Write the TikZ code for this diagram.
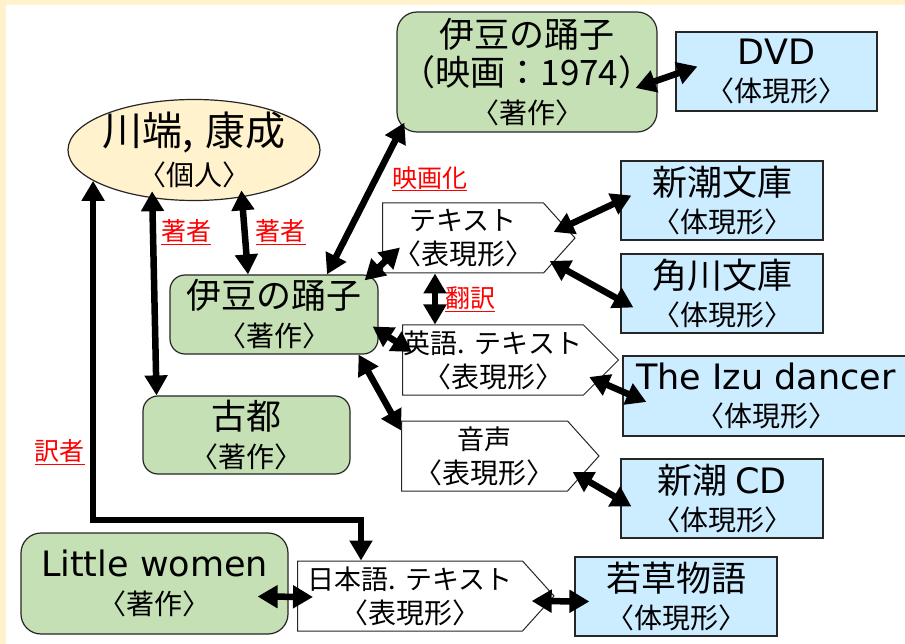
\documentclass[tikz,border=0pt]{standalone}
\usepackage{fontspec}
\setmainfont{Noto Sans CJK JP}
\newfontfamily\latinfont{DejaVu Sans}
\usetikzlibrary{arrows.meta,shapes.geometric,shapes.symbols}

\definecolor{cream}{RGB}{255,242,204}
\definecolor{workgreen}{RGB}{197,224,180}
\definecolor{manifblue}{RGB}{204,236,255}
\definecolor{labred}{RGB}{255,0,0}

\newcommand{\head}[1]{{\fontsize{35}{38}\selectfont #1}}
\newcommand{\exhead}[1]{{\fontsize{27}{34}\selectfont #1}}

\tikzset{
  work/.style={rectangle, rounded corners=15pt, draw=black!85, line width=1.2pt,
    fill=workgreen, align=center, inner sep=0pt, font=\fontsize{28}{38}\selectfont},
  manif/.style={rectangle, draw=black!85, line width=1.2pt, fill=manifblue,
    minimum width=202pt, minimum height=79pt, align=center, inner sep=0pt,
    font=\fontsize{28}{37}\selectfont},
  expr/.style={signal, signal to=east, signal pointer angle=96, draw=black!85,
    line width=1pt, fill=white, align=center, inner sep=0pt, minimum height=70pt,
    font=\fontsize{28}{34}\selectfont},
  rel/.style={line width=6.5pt,
    {Triangle[length=20pt,width=22pt]}-{Triangle[length=20pt,width=22pt]}},
  lab/.style={text=labred, font=\fontsize{25}{27}\selectfont, inner sep=1pt},
}

\begin{document}
\begin{tikzpicture}[x=1pt,y=-1pt]
  \fill[cream] (0,0) rectangle (905,644);
  \fill[white] (6,5) rectangle (905,644);
  \clip (0,0) rectangle (905,644);

  % persons and works
  \node[ellipse, draw=black!85, line width=1.2pt, fill=cream, minimum width=252pt,
    minimum height=101pt, inner xsep=-12pt, inner ysep=-6pt, align=center,
    font=\fontsize{28}{40}\selectfont] (kawabata) at (194,150)
    {{\fontsize{40}{40}\selectfont 川端,\hspace{0.3em}康成}\\〈個人〉};
  \node[work, rounded corners=20pt, minimum width=260pt, minimum height=120pt]
    (film) at (527,72) {\head{伊豆の踊子}\\\head{（映画：1974）}\\〈著作〉};
  \node[work, minimum width=208pt, minimum height=79pt] (izu) at (274,314.5)
    {\head{伊豆の踊子}\\〈著作〉};
  \node[work, minimum width=207pt, minimum height=78pt] (koto) at (246.5,435)
    {\head{古都}\\〈著作〉};
  \node[work, rounded corners=20pt, minimum width=267pt, minimum height=101pt]
    (little) at (154.5,583.5) {\head{\latinfont Little women}\\〈著作〉};

  % expressions
  \node[expr, text width=161pt, anchor=west] (text) at (382,238)
    {\exhead{テキスト}\\〈表現形〉};
  \node[expr, text width=181pt, signal pointer angle=90, anchor=west] (eng)
    at (402,360) {\exhead{英語.~テキスト}\\〈表現形〉};
  \node[expr, text width=166pt, anchor=west] (audio) at (401,456)
    {\exhead{音声}\\〈表現形〉};
  \node[expr, text width=225pt, anchor=west] (jpn) at (297,596)
    {\exhead{日本語.~テキスト}\\〈表現形〉};

  % manifestations
  \node[manif, minimum width=201pt] (dvd) at (776.5,71.5)
    {\head{\latinfont DVD}\\〈体現形〉};
  \node[manif] (shincho) at (722,200.5) {\head{新潮文庫}\\〈体現形〉};
  \node[manif] (kadokawa) at (722,293.5) {\head{角川文庫}\\〈体現形〉};
  \node[manif, minimum width=286pt, minimum height=80pt] (izudancer) at (766,396)
    {\head{\latinfont The Izu dancer}\\〈体現形〉};
  \node[manif] (cd) at (722,498.5) {\head{新潮 {\latinfont CD}}\\〈体現形〉};
  \node[manif] (wakakusa) at (676,596.5) {\head{若草物語}\\〈体現形〉};

  % relations
  \draw[rel] ([yshift=7pt]kawabata.-45) -- node[lab, right=7pt]{\underline{著者}}
    ([xshift=-26pt]izu.north);
  \draw[rel] ([yshift=7pt]kawabata.-131) -- node[lab, pos=0.2, right=4pt]{\underline{著者}}
    ([xshift=-90pt]koto.north);
  \draw[rel] (kawabata.-163) -- node[lab, pos=0.8, left=4pt]{\underline{訳者}}
    ++(0,339) -| ([xshift=64pt]jpn.north west);
  \draw[rel] ([xshift=53pt]izu.north) -- node[lab, pos=0.63, right=12pt]{\underline{映画化}}
    ([xshift=8pt,yshift=10pt]film.south west);
  \draw[rel] ([xshift=-14pt,yshift=-6pt]izu.north east) --
    ([xshift=18pt,yshift=26pt]text.south west);
  \draw[rel] ([xshift=53pt]text.south west) -- node[lab, right=6pt]{\underline{翻訳}}
    ([xshift=33pt]eng.north west);
  \draw[rel] ([xshift=-6pt,yshift=-12pt]izu.east) -- ([xshift=10pt,yshift=8pt]eng.west);
  \draw[rel] ([xshift=-20pt]izu.south east) -- ([yshift=-10pt]audio.north west);
  \draw[rel] ([xshift=-22pt,yshift=-16pt]film.east) -- ([xshift=22pt,yshift=5pt]dvd.west);
  \draw[rel] ([xshift=-22pt,yshift=6pt]text.east) -- ([xshift=11pt,yshift=5pt]shincho.west);
  \draw[rel] ([xshift=-26pt,yshift=-23pt]text.east) -- ([xshift=13pt,yshift=-14pt]kadokawa.west);
  \draw[rel] ([xshift=-30pt,yshift=-17pt]eng.east) -- ([xshift=24pt,yshift=-6pt]izudancer.west);
  \draw[rel] ([xshift=-27pt,yshift=-16pt]audio.east) -- ([xshift=11pt,yshift=-8pt]cd.west);
  \draw[rel] ([xshift=-31pt,yshift=-13pt]little.east) -- ([xshift=16pt,yshift=-1pt]jpn.west);
  \draw[rel] ([xshift=-23pt,yshift=-5pt]jpn.east) -- ([xshift=15pt,yshift=-5pt]wakakusa.west);
\end{tikzpicture}
\end{document}
